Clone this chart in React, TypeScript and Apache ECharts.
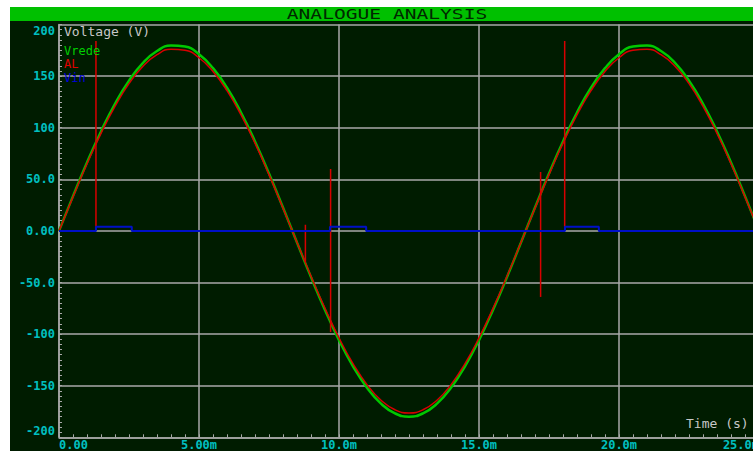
import React, { useEffect, useRef } from "react";
import * as echarts from "echarts";

// Time (ms) of the sampled points
const times = [0, 0.5, 1, 1.5, 2, 2.5, 3, 3.5, 4, 4.5, 5, 5.5, 6, 6.5, 7, 7.5, 8, 8.5, 9, 9.5, 10, 10.5, 11, 11.5, 12, 12.5, 13, 13.5, 14, 14.5, 15, 15.5, 16, 16.5, 17, 17.5, 18, 18.5, 19, 19.5, 20, 20.5, 21, 21.5, 22, 22.5, 23, 23.5, 24, 24.5, 25];
// Vrede (V)
const vrede = [0, 33.7, 66.3, 96.4, 123.2, 145.6, 162.9, 174.3, 179.6, 178.6, 171.2, 157.7, 138.7, 114.7, 86.7, 55.6, 22.6, -11.3, -44.8, -76.6, -105.8, -131.2, -152.0, -167.4, -176.8, -180, -176.8, -167.4, -152.0, -131.2, -105.8, -76.6, -44.8, -11.3, 22.6, 55.6, 86.7, 114.7, 138.7, 157.7, 171.2, 178.6, 179.6, 174.3, 162.9, 145.6, 123.2, 96.4, 66.3, 33.7, 0];
// AL (V)
const al = [0, 33.0, 65.0, 94.5, 120.7, 142.7, 159.6, 170.8, 176.0, 175.0, 167.8, 154.5, 135.9, 112.4, 85.0, 54.5, 22.1, -11.1, -43.9, -75.1, -103.7, -128.6, -149.0, -164.1, -173.3, -176.4, -173.3, -164.1, -149.0, -128.6, -103.7, -75.1, -43.9, -11.1, 22.1, 54.5, 85.0, 112.4, 135.9, 154.5, 167.8, 175.0, 176.0, 170.8, 159.6, 142.7, 120.7, 94.5, 65.0, 33.0, 0];
// AL switching spikes
const spikeTimes = [1.32, 8.8, 9.7, 17.2, 18.06];
const spikeHigh = [184, 6, 60, 57, 184];
const spikeLow = [4, -30, -98, -64, 4];
// Vin (V)
const vinTimes = [0, 1.32, 1.32, 2.6, 2.6, 9.68, 9.68, 10.97, 10.97, 18.07, 18.07, 19.28, 19.28, 25];
const vinValues = [0, 0, 4, 4, 0, 0, 4, 4, 0, 0, 4, 4, 0, 0];

const xTicks = { min: 0, max: 25, interval: 5 };
const yTicks = { min: -200, max: 200, interval: 50 };

const GRID = "#a8a8a8";
const CYAN = "#00c0c0";
const MONO = "DejaVu Sans Mono";

export default function App() {
  const ref = useRef<HTMLDivElement>(null);
  useEffect(() => {
    if (!ref.current) return;
    const chart = echarts.init(ref.current, null, { renderer: "svg" });
    const spikeSeries = spikeTimes.map((t, i) => ({
      type: "line",
      data: [[t, spikeHigh[i]], [t, spikeLow[i]]],
      showSymbol: false,
      lineStyle: { color: "#d80000", width: 1.5 },
      z: 4,
    }));
    chart.setOption({
      animation: false,
      backgroundColor: "transparent",
      grid: { left: 49, top: 17.5, width: 700, height: 412.8, containLabel: false, outerBoundsMode: "none" },
      xAxis: {
        type: "value",
        min: xTicks.min,
        max: xTicks.max,
        interval: xTicks.interval,
        axisLine: { show: true, onZero: false, lineStyle: { color: GRID, width: 1.5 } },
        axisTick: { show: true, inside: true, length: 3, lineStyle: { color: GRID } },
        minorTick: { show: true, splitNumber: 10, length: 3, lineStyle: { color: GRID } },
        splitLine: { show: true, lineStyle: { color: GRID, width: 1.5 } },
        axisLabel: {
          color: CYAN,
          fontFamily: MONO,
          fontSize: 12,
          fontWeight: "bold",
          margin: 2,
          alignMinLabel: "left",
          alignMaxLabel: "right",
          formatter: (v: number) => (v === 0 ? "0.00" : v < 10 ? v.toFixed(2) + "m" : v.toFixed(1) + "m"),
        },
      },
      yAxis: {
        type: "value",
        min: yTicks.min,
        max: yTicks.max,
        interval: yTicks.interval,
        axisLine: { show: true, onZero: false, lineStyle: { color: GRID, width: 1.5 } },
        axisTick: { show: true, inside: true, length: 3, lineStyle: { color: GRID } },
        minorTick: { show: true, splitNumber: 10, length: 3, lineStyle: { color: GRID } },
        splitLine: { show: true, lineStyle: { color: GRID, width: 1.5 } },
        axisLabel: {
          color: CYAN,
          fontFamily: MONO,
          fontSize: 12,
          fontWeight: "bold",
          margin: 4,
          verticalAlignMaxLabel: "top",
          verticalAlignMinLabel: "bottom",
          formatter: (v: number) => (v === 0 ? "0.00" : Math.abs(v) < 100 ? v.toFixed(1) : String(v)),
        },
      },
      series: [
        {
          type: "line",
          data: times.map((t, i) => [t, vrede[i]]),
          smooth: true,
          showSymbol: false,
          lineStyle: { color: "#00c800", width: 2.5 },
          z: 2,
        },
        {
          type: "line",
          data: times.map((t, i) => [t, al[i]]),
          smooth: true,
          showSymbol: false,
          lineStyle: { color: "#d80000", width: 1.5 },
          z: 3,
        },
        ...spikeSeries,
        {
          type: "line",
          data: vinTimes.map((t, i) => [t, vinValues[i]]),
          showSymbol: false,
          lineStyle: { color: "#0010c8", width: 2 },
          z: 5,
        },
      ],
      graphic: [
        { type: "rect", shape: { x: 0, y: 0, width: 743, height: 14 }, style: { fill: "#00c000" }, z: 10 },
        {
          type: "text",
          x: 377,
          y: 7.5,
          scaleX: 1.4,
          style: { text: "ANALOGUE ANALYSIS", fill: "#002800", font: `14px ${MONO}`, textAlign: "center", textVerticalAlign: "middle" },
          z: 11,
        },
        { type: "text", x: 54, y: 24.5, style: { text: "Voltage (V)", fill: "#c8c8c8", font: `13px ${MONO}`, textVerticalAlign: "middle" }, z: 11 },
        { type: "text", x: 54, y: 44, style: { text: "Vrede", fill: "#00d000", font: `12px ${MONO}`, textVerticalAlign: "middle" }, z: 11 },
        { type: "text", x: 54, y: 57, style: { text: "AL", fill: "#e00000", font: `12px ${MONO}`, textVerticalAlign: "middle" }, z: 11 },
        { type: "text", x: 54, y: 70.5, style: { text: "Vin", fill: "#0000e0", font: `12px ${MONO}`, textVerticalAlign: "middle" }, z: 11 },
        { type: "text", x: 676, y: 416.5, style: { text: "Time (s)", fill: "#c8c8c8", font: `13px ${MONO}`, textVerticalAlign: "middle" }, z: 11 },
      ],
    });
    return () => chart.dispose();
  }, []);
  return (
    <div style={{ position: "fixed", left: 0, top: 0, width: 753, height: 451, background: "#ffffff", overflow: "hidden" }}>
      <div style={{ position: "absolute", left: 10, top: 7, width: 743, height: 444, background: "#001c00" }}>
        <div ref={ref} style={{ width: 743, height: 444 }} />
      </div>
    </div>
  );
}
